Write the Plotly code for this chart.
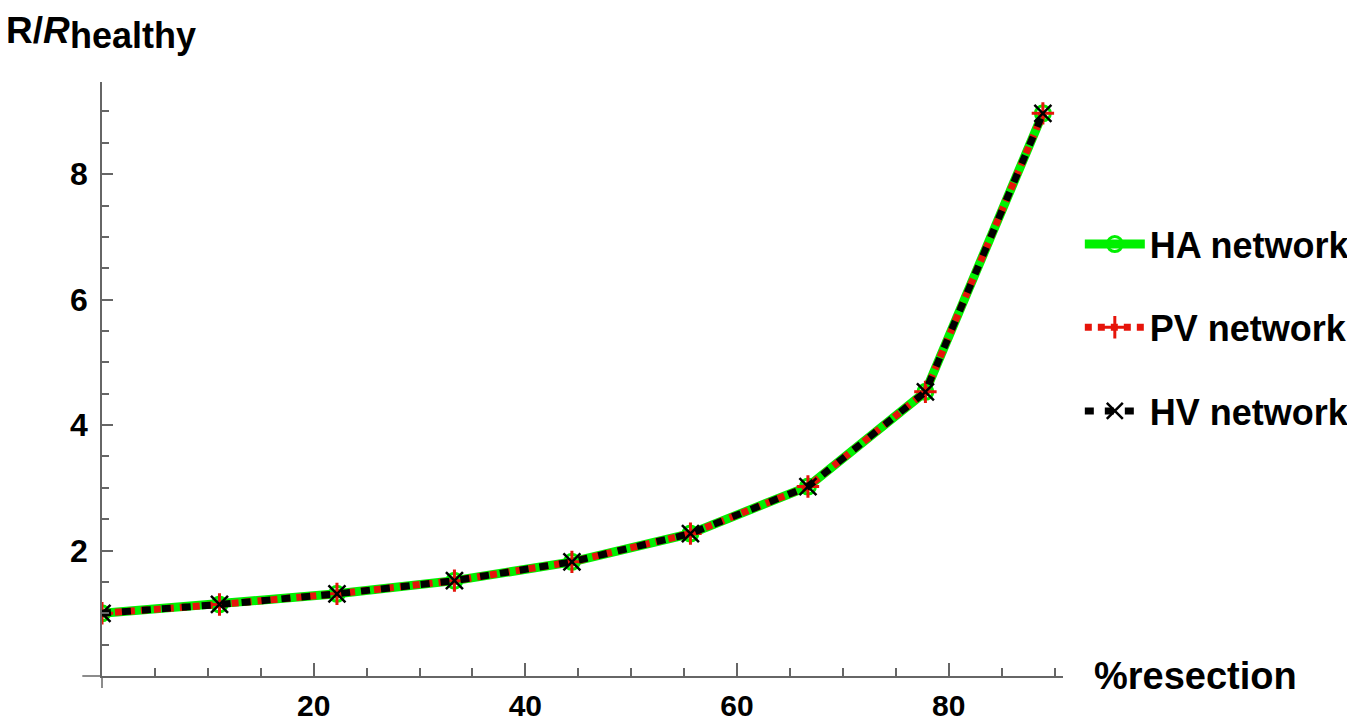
import plotly.graph_objects as go

# --- data ---
resection = [0, 11.1, 22.2, 33.3, 44.4, 55.6, 66.7, 77.8, 88.9]
ha_ratio = [1.00, 1.14, 1.31, 1.52, 1.82, 2.27, 3.02, 4.53, 8.97]
pv_ratio = [1.00, 1.14, 1.31, 1.52, 1.82, 2.27, 3.02, 4.53, 8.97]
hv_ratio = [1.00, 1.14, 1.31, 1.52, 1.82, 2.27, 3.02, 4.53, 8.97]

x_ticks = [20, 40, 60, 80]
y_ticks = [2, 4, 6, 8]

FONT = "Liberation Sans, Arial, sans-serif"
GREEN = "rgb(0,240,0)"
RED = "rgb(230,20,10)"
AXIS = "#666666"

fig = go.Figure()

# green solid underneath, red dashes, then black dashes on top
fig.add_trace(go.Scatter(
    x=resection, y=ha_ratio, mode="lines+markers", name="HA network",
    line=dict(color=GREEN, width=9),
    marker=dict(symbol="circle-open", size=15, color=GREEN, line=dict(width=3, color=GREEN)),
    legend="legend",
))
fig.add_trace(go.Scatter(
    x=resection, y=pv_ratio, mode="lines+markers", name="PV network",
    line=dict(color=RED, width=7, dash="7px,6px"),
    marker=dict(symbol="cross-thin-open", size=16, color=RED, line=dict(width=3, color=RED)),
    legend="legend2",
))
fig.add_trace(go.Scatter(
    x=resection, y=hv_ratio, mode="lines+markers", name="HV network",
    line=dict(color="black", width=7, dash="9px,11px"),
    marker=dict(symbol="x-thin-open", size=17, color="black", line=dict(width=2.5, color="black")),
    legend="legend3",
))

leg_common = dict(font=dict(family=FONT, size=36, color="black", weight="bold"),
                  bgcolor="rgba(0,0,0,0)", xanchor="left", yanchor="middle", x=1.0175,
                  itemwidth=60)

# the page body adds an 8px offset, so the figure is 8px smaller than the window
fig.update_layout(
    width=1347, height=715,
    margin=dict(l=94, r=292, t=74, b=47, autoexpand=False),
    paper_bgcolor="white", plot_bgcolor="white",
    showlegend=True,
    legend=dict(leg_common, y=0.727),
    legend2=dict(leg_common, y=0.587),
    legend3=dict(leg_common, y=0.446),
    xaxis=dict(
        range=[0, 90.8], showgrid=False, zeroline=False, automargin=False,
        showline=True, linecolor=AXIS, linewidth=1.5,
        tickmode="array", tickvals=x_ticks,
        ticks="inside", ticklen=13, tickwidth=1.5, tickcolor=AXIS,
        minor=dict(dtick=5, tick0=0, ticks="inside", ticklen=8, tickwidth=1.5, tickcolor=AXIS),
        tickfont=dict(family=FONT, size=30, color="black", weight="bold"),
        ticklabelstandoff=2,
    ),
    yaxis=dict(
        range=[0, 9.47], showgrid=False, zeroline=False, automargin=False,
        showline=True, linecolor=AXIS, linewidth=1.5,
        tickmode="array", tickvals=y_ticks,
        ticks="inside", ticklen=11, tickwidth=1.5, tickcolor=AXIS,
        minor=dict(dtick=0.5, tick0=0, ticks="inside", ticklen=7, tickwidth=1.5, tickcolor=AXIS),
        tickfont=dict(family=FONT, size=32, color="black", weight="bold"),
        ticklabelstandoff=6,
    ),
    shapes=[
        # axes poke out a little past the origin
        dict(type="line", xref="paper", yref="paper", x0=-0.0205, x1=0, y0=0, y1=0,
             line=dict(color=AXIS, width=1.5)),
        dict(type="line", xref="paper", yref="paper", x0=0, x1=0, y0=-0.02, y1=0,
             line=dict(color=AXIS, width=1.5)),
    ],
    annotations=[
        dict(text="R/<i>R</i>", xref="paper", yref="paper", x=-0.1023, y=1.1245,
             xanchor="left", yanchor="top", showarrow=False,
             font=dict(family=FONT, size=37, color="black", weight="bold")),
        dict(text="healthy", xref="paper", yref="paper", x=-0.0353, y=1.1165,
             xanchor="left", yanchor="top", showarrow=False,
             font=dict(family=FONT, size=36, color="black", weight="bold")),
        dict(text="%resection", xref="paper", yref="paper", x=1.030, y=0,
             xanchor="left", yanchor="middle", showarrow=False,
             font=dict(family=FONT, size=38, color="black", weight="bold")),
    ],
)

fig.write_html("out.html")
